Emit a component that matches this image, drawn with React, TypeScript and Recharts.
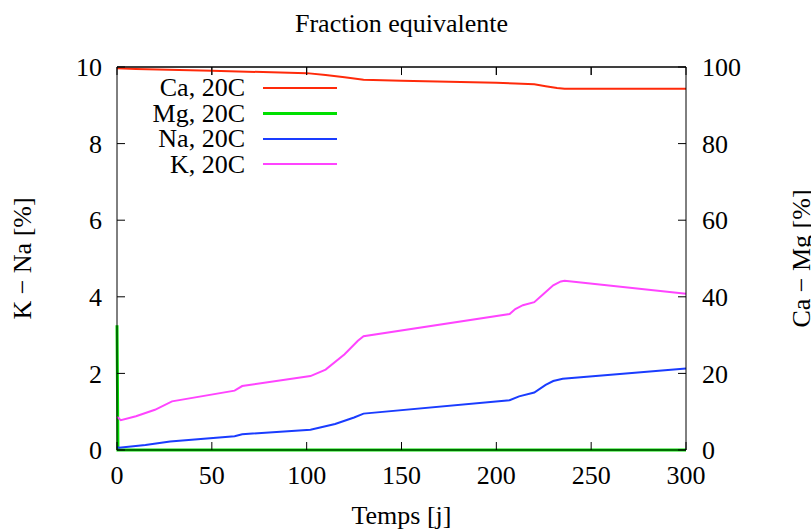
import React from "react";
import { LineChart, Line, XAxis, YAxis, Legend, Label } from "recharts";

const xTicks = [0, 50, 100, 150, 200, 250, 300];
const leftTicks = [0, 2, 4, 6, 8, 10];
const rightTicks = [0, 20, 40, 60, 80, 100];

// Ca (right axis, %)
const caTimes = [0, 10, 50, 100, 110, 120, 130, 150, 200, 210, 220, 226, 232, 236, 300];
const caValues = [99.7, 99.5, 99.0, 98.4, 97.9, 97.3, 96.7, 96.4, 95.9, 95.7, 95.5, 95.0, 94.5, 94.3, 94.3];

// Mg (right axis, %)
const mgTimes = [0, 0.5, 300];
const mgValues = [32.6, 0, 0];

// Na (left axis, %)
const naTimes = [0, 1, 15, 28, 62, 66, 102, 115, 125, 130, 207, 212, 220, 226, 230, 235, 300];
const naValues = [0.08, 0.06, 0.13, 0.22, 0.36, 0.41, 0.53, 0.68, 0.85, 0.95, 1.3, 1.4, 1.5, 1.7, 1.8, 1.86, 2.13];

// K (left axis, %)
const kTimes = [0, 2, 10, 20, 29, 62, 66, 102, 110, 120, 127, 130, 207, 210, 214, 220, 225, 230, 234, 236, 300];
const kValues = [0.87, 0.78, 0.88, 1.05, 1.27, 1.55, 1.67, 1.93, 2.1, 2.5, 2.85, 2.97, 3.55, 3.68, 3.78, 3.86, 4.08, 4.3, 4.4, 4.42, 4.08];

const series = [
  { name: "Ca, 20C", times: caTimes, values: caValues, color: "#ff2a0a", axis: "right", width: 2 },
  { name: "Mg, 20C", times: mgTimes, values: mgValues, color: "#00e000", axis: "right", width: 3 },
  { name: "Na, 20C", times: naTimes, values: naValues, color: "#1a3cff", axis: "left", width: 2 },
  { name: "K, 20C", times: kTimes, values: kValues, color: "#ff44ff", axis: "left", width: 2 },
];

const FONT = "'Liberation Serif', 'DejaVu Serif', serif";
const FS = 26;

const tickStyle = { fill: "#000", fontSize: FS, fontFamily: FONT };

// top frame edge + its inward tick marks, in data units of the left axis
const frameTop = [{ t: 0, v: 10 }, { t: 300, v: 10 }];
const topTickLen = 0.21;

function LegendBox() {
  return (
    <div style={{ fontFamily: FONT, fontSize: FS, color: "#000" }}>
      {series.map((s) => (
        <div key={s.name} style={{ display: "flex", alignItems: "center", height: 25.5 }}>
          <span style={{ width: 127, textAlign: "right", lineHeight: "25.5px" }}>{s.name}</span>
          <span
            style={{
              display: "inline-block",
              marginLeft: 18,
              width: 74,
              height: s.width,
              background: s.color,
            }}
          />
        </div>
      ))}
    </div>
  );
}

export default function App() {
  return (
    <div style={{ position: "absolute", left: 0, top: 0, width: 811, height: 531, background: "#fff" }}>
      <LineChart width={811} height={531} margin={{ top: 0, right: 0, bottom: 0, left: 0 }}>
        <XAxis
          xAxisId="bottom"
          dataKey="t"
          type="number"
          domain={[0, 300]}
          ticks={xTicks}
          orientation="bottom"
          height={81}
          stroke="#000"
          tickSize={-8}
          tickMargin={24}
          tick={tickStyle}
        >
          <Label
            content={({ viewBox }: any) => (
              <text
                x={viewBox.x + viewBox.width / 2}
                y={viewBox.y + 74}
                textAnchor="middle"
                fontSize={FS}
                fontFamily={FONT}
                fill="#000"
              >
                Temps [j]
              </text>
            )}
          />
        </XAxis>
        <XAxis
          xAxisId="top"
          dataKey="t"
          type="number"
          domain={[0, 300]}
          ticks={xTicks}
          orientation="top"
          height={67}
          stroke="#000"
          tickSize={-8}
          tickFormatter={() => ""}
        >
          <Label
            content={({ viewBox }: any) => (
              <text
                x={viewBox.x + viewBox.width / 2}
                y={32}
                textAnchor="middle"
                fontSize={FS}
                fontFamily={FONT}
                fill="#000"
              >
                Fraction equivalente
              </text>
            )}
          />
        </XAxis>
        <YAxis
          yAxisId="left"
          orientation="left"
          domain={[0, 10]}
          ticks={leftTicks}
          width={117}
          stroke="#000"
          tickSize={-8}
          tickMargin={23}
          tick={tickStyle}
        >
          <Label
            content={({ viewBox }: any) => {
              const cx = 31;
              const cy = viewBox.y + viewBox.height / 2;
              return (
                <text
                  x={cx}
                  y={cy}
                  transform={`rotate(-90 ${cx} ${cy})`}
                  textAnchor="middle"
                  fontSize={FS}
                  fontFamily={FONT}
                  fill="#000"
                >
                  K − Na [%]
                </text>
              );
            }}
          />
        </YAxis>
        <YAxis
          yAxisId="right"
          orientation="right"
          domain={[0, 100]}
          ticks={rightTicks}
          width={125}
          stroke="#000"
          tickSize={-8}
          tickMargin={24}
          tick={tickStyle}
        >
          <Label
            content={({ viewBox }: any) => {
              const cx = 810;
              const cy = viewBox.y + viewBox.height / 2;
              return (
                <text
                  x={cx}
                  y={cy}
                  transform={`rotate(-90 ${cx} ${cy})`}
                  textAnchor="middle"
                  fontSize={FS}
                  fontFamily={FONT}
                  fill="#000"
                >
                  Ca − Mg [%]
                </text>
              );
            }}
          />
        </YAxis>
        <Legend
          layout="vertical"
          align="center"
          verticalAlign="middle"
          wrapperStyle={{ left: 118, top: 75, width: 240 }}
          content={() => <LegendBox />}
        />
        <Line
          data={frameTop}
          dataKey="v"
          xAxisId="top"
          yAxisId="left"
          type="linear"
          stroke="#000"
          strokeWidth={1}
          dot={false}
          activeDot={false}
          legendType="none"
          isAnimationActive={false}
        />
        {xTicks.slice(1, -1).map((t) => (
          <Line
            key={`tt${t}`}
            data={[{ t, v: 10 }, { t, v: 10 - topTickLen }]}
            dataKey="v"
            xAxisId="top"
            yAxisId="left"
            type="linear"
            stroke="#000"
            strokeWidth={1}
            dot={false}
            activeDot={false}
            legendType="none"
            isAnimationActive={false}
          />
        ))}
        {series.map((s) => (
          <Line
            key={s.name}
            name={s.name}
            data={s.times.map((t, i) => ({ t, v: s.values[i] }))}
            dataKey="v"
            xAxisId="bottom"
            yAxisId={s.axis}
            type="linear"
            stroke={s.color}
            strokeWidth={s.width}
            dot={false}
            activeDot={false}
            isAnimationActive={false}
          />
        ))}
      </LineChart>
    </div>
  );
}
